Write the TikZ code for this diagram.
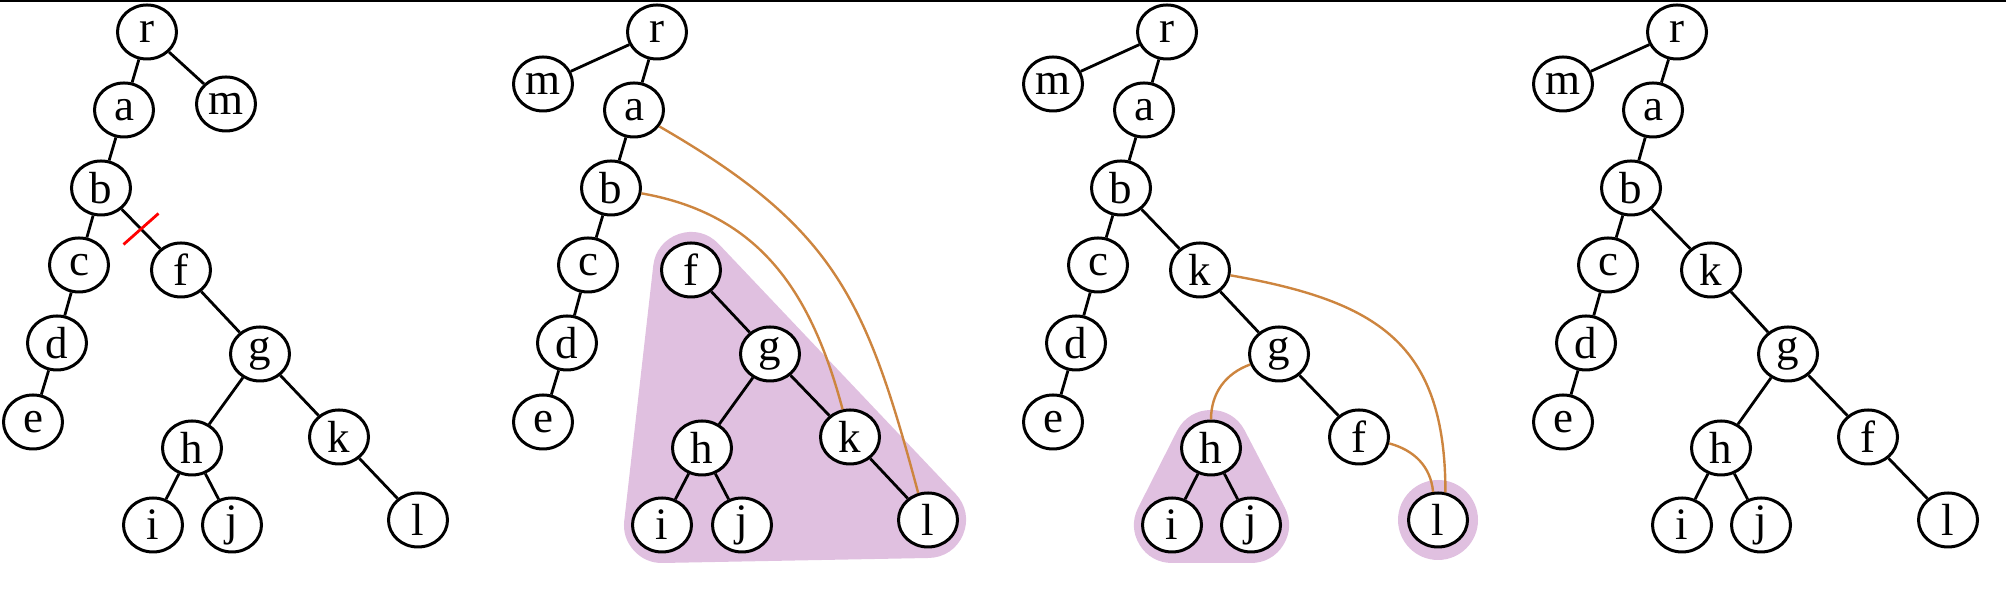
\documentclass[tikz,border=0pt]{standalone}
\usepackage{fontspec}
\setmainfont{Liberation Serif}
\usetikzlibrary{shapes.geometric,backgrounds}
\definecolor{hullc}{RGB}{224,192,224}
\definecolor{linkc}{RGB}{205,133,63}
\begin{document}
\begin{tikzpicture}[x=0.5pt,y=0.5pt,
  tn/.style={ellipse,draw,line width=1.5pt,fill=white,minimum width=29.5pt,minimum height=27pt,inner sep=-2pt,font=\fontsize{22.5}{24}\selectfont},
  te/.style={line width=1.4pt},
  lk/.style={draw=linkc,line width=1.2pt},
  hull/.style={fill=hullc,draw=hullc,line join=round,line width=38pt},
  cutmark/.style={draw=red,line width=1.4pt}]
\useasboundingbox (0,0) rectangle (2006,597);
\draw[line width=1pt] (0,596) -- (2006,596);

% ---------- panel 1 ----------
\node[tn] (r1) at (147,565) {r};
\node[tn] (a1) at (124,487) {a};
\node[tn] (b1) at (101,409) {b};
\node[tn] (c1) at (79,332) {c};
\node[tn] (d1) at (57,254) {d};
\node[tn] (e1) at (33,175) {e};
\node[tn] (f1) at (181,327) {f};
\node[tn] (g1) at (260,243) {g};
\node[tn] (h1) at (192,149) {h};
\node[tn] (i1) at (153,72) {i};
\node[tn] (j1) at (232,72) {j};
\node[tn] (k1) at (339,160) {k};
\node[tn] (l1) at (418,77) {l};
\node[tn] (m1) at (226,493) {m};
\draw[te] (r1) -- (a1) (r1) -- (m1) (a1) -- (b1) (b1) -- (c1) (c1) -- (d1) (d1) -- (e1)
  (b1) -- (f1) (f1) -- (g1) (g1) -- (h1) (g1) -- (k1) (h1) -- (i1) (h1) -- (j1) (k1) -- (l1);
\path (b1) -- (f1) coordinate[midway] (x1);
\draw[cutmark] ([shift={(-17.5,-15.5)}]x1) -- ([shift={(17.5,15.5)}]x1);

% ---------- panel 2 ----------
\begin{scope}[xshift=255pt]
\node[tn] (r2) at (147,565) {r};
\node[tn] (m2) at (33,513) {m};
\node[tn] (a2) at (124,487) {a};
\node[tn] (b2) at (101,409) {b};
\node[tn] (c2) at (78,332) {c};
\node[tn] (d2) at (57,254) {d};
\node[tn] (e2) at (33,175) {e};
\node[tn] (f2) at (181,327) {f};
\node[tn] (g2) at (260,243) {g};
\node[tn] (h2) at (192,149) {h};
\node[tn] (i2) at (152,72) {i};
\node[tn] (j2) at (232,72) {j};
\node[tn] (k2) at (340,160) {k};
\node[tn] (l2) at (418,77) {l};
\end{scope}
\draw[te] (r2) -- (m2) (r2) -- (a2) (a2) -- (b2) (b2) -- (c2) (c2) -- (d2) (d2) -- (e2)
  (f2) -- (g2) (g2) -- (h2) (g2) -- (k2) (h2) -- (i2) (h2) -- (j2) (k2) -- (l2);
\begin{scope}[on background layer]
\path[hull] (f2.center) -- (i2.center) -- (l2.center) -- cycle;
\end{scope}
\draw[lk] (a2.-33) to[out=-30,in=105,looseness=1.15] (l2.110);
\draw[lk] (b2.-10) to[out=-10,in=105,looseness=1.05] (k2.105);

% ---------- panel 3 ----------
\begin{scope}[xshift=510pt]
\node[tn] (r3) at (147,565) {r};
\node[tn] (m3) at (33,513) {m};
\node[tn] (a3) at (124,487) {a};
\node[tn] (b3) at (101,409) {b};
\node[tn] (c3) at (78,332) {c};
\node[tn] (d3) at (56,254) {d};
\node[tn] (e3) at (33,175) {e};
\node[tn] (k3) at (180,327) {k};
\node[tn] (g3) at (259,243) {g};
\node[tn] (h3) at (191,149) {h};
\node[tn] (i3) at (152,72) {i};
\node[tn] (j3) at (231,72) {j};
\node[tn] (f3) at (339,160) {f};
\node[tn] (l3) at (418,77) {l};
\end{scope}
\draw[te] (r3) -- (m3) (r3) -- (a3) (a3) -- (b3) (b3) -- (c3) (c3) -- (d3) (d3) -- (e3)
  (b3) -- (k3) (k3) -- (g3) (g3) -- (f3) (h3) -- (i3) (h3) -- (j3);
\begin{scope}[on background layer]
\path[hull] (h3.center) -- (i3.center) -- (j3.center) -- cycle;
\fill[hullc] (l3.center) circle[radius=20pt];
\end{scope}
\draw[lk] (g3.200) to[out=200,in=90] (h3.90);
\draw[lk] (k3.-10) to[out=-10,in=90,looseness=1.25] (l3.75);
\draw[lk] (f3.-12) to[out=-15,in=95] (l3.100);

% ---------- panel 4 ----------
\begin{scope}[xshift=765pt]
\node[tn] (r4) at (147,565) {r};
\node[tn] (m4) at (33,513) {m};
\node[tn] (a4) at (123,487) {a};
\node[tn] (b4) at (101,409) {b};
\node[tn] (c4) at (78,332) {c};
\node[tn] (d4) at (56,254) {d};
\node[tn] (e4) at (33,175) {e};
\node[tn] (k4) at (181,327) {k};
\node[tn] (g4) at (258,243) {g};
\node[tn] (h4) at (191,149) {h};
\node[tn] (i4) at (152,72) {i};
\node[tn] (j4) at (231,72) {j};
\node[tn] (f4) at (338,160) {f};
\node[tn] (l4) at (418,77) {l};
\end{scope}
\draw[te] (r4) -- (m4) (r4) -- (a4) (a4) -- (b4) (b4) -- (c4) (c4) -- (d4) (d4) -- (e4)
  (b4) -- (k4) (k4) -- (g4) (g4) -- (h4) (g4) -- (f4) (h4) -- (i4) (h4) -- (j4) (f4) -- (l4);
\end{tikzpicture}
\end{document}
